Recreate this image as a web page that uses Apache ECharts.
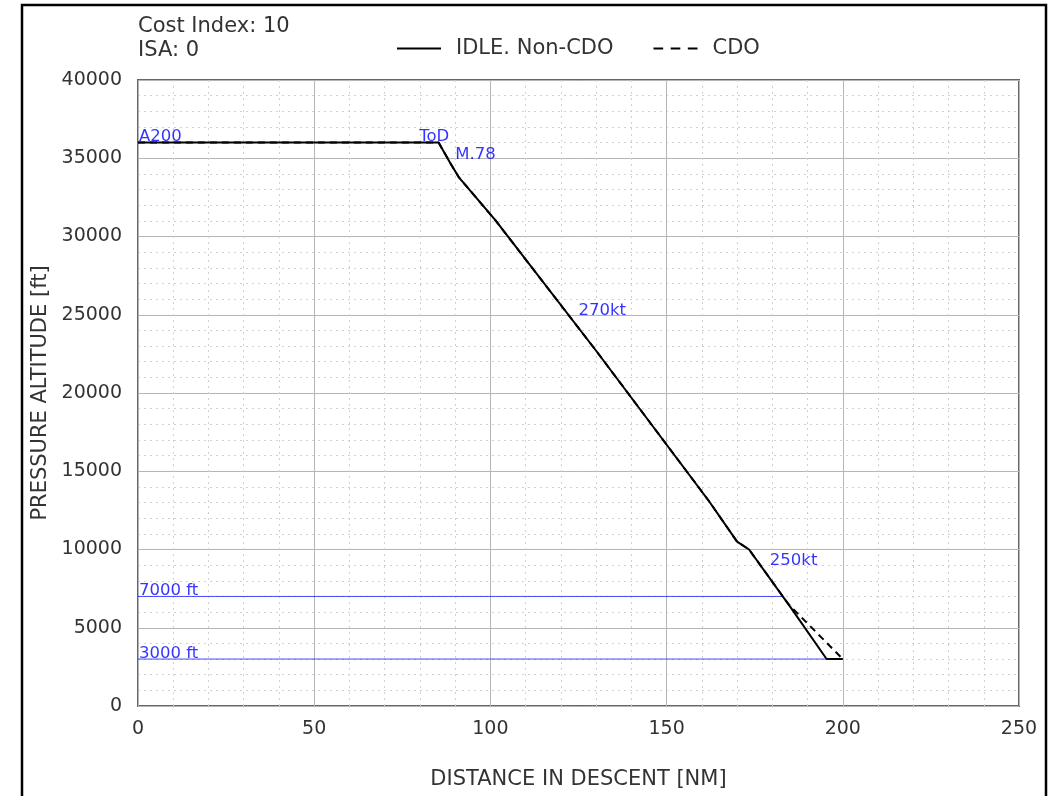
<!DOCTYPE html>
<html>
<head>
<meta charset="utf-8">
<script src="https://cdn.jsdelivr.net/npm/echarts@6/dist/echarts.min.js"></script>
<style>
    html, body { margin: 0; padding: 0; background: #fff; }
    #chart { width: 1050px; height: 796px; }
</style>
</head>
<body>
<div id="chart"></div>
<script>
// descent profiles: [distance NM, altitude ft]
var nonCdoProfile = [
    [0, 36000], [85.3, 36000], [88.6, 34700], [91, 33800], [101.4, 31040],
    [130, 22700], [162, 13100], [170, 10500], [173.4, 10000], [185.2, 6300],
    [195.4, 3000], [200, 3000]
];
var cdoProfile = [
    [0, 36000], [85.3, 36000], [88.6, 34700], [91, 33800], [101.4, 31040],
    [130, 22700], [162, 13100], [170, 10500], [173.4, 10000], [184.6, 6500],
    [200, 3000]
];

// reference altitude lines
var refAlts = [7000, 3000];
var refEnds = [182.8, 200];
var refLabels = ['7000 ft', '3000 ft'];

// point annotations
var noteText = ['A200', 'ToD', 'M.78', '270kt', '250kt'];
var notePos = [[0.3, 36000], [79.8, 36000], [90, 34900], [125, 24900], [179.3, 8900]];

var chart = echarts.init(document.getElementById('chart'));

var font = 'DejaVu Sans';

var series = [
    {
        name: 'IDLE. Non-CDO',
        type: 'line',
        data: nonCdoProfile,
        symbol: 'none',
        lineStyle: { color: '#000', width: 2 },
        itemStyle: { color: '#000' },
        z: 4
    },
    {
        name: 'CDO',
        type: 'line',
        data: cdoProfile,
        symbol: 'none',
        lineStyle: { color: '#000', width: 2, type: [7, 5] },
        itemStyle: { color: '#000' },
        z: 3
    }
];

refAlts.forEach(function (alt, i) {
    series.push({
        type: 'line',
        data: [[0, alt], [refEnds[i], alt]],
        symbol: 'none',
        silent: true,
        lineStyle: { color: 'rgba(30,30,255,0.8)', width: 1 },
        z: 2
    });
});

var labelData = [];
noteText.forEach(function (t, i) {
    labelData.push({ value: notePos[i], name: t });
});
refLabels.forEach(function (t, i) {
    labelData.push({ value: [0.3, refAlts[i]], name: t });
});

series.push({
    type: 'scatter',
    data: labelData,
    symbolSize: 0,
    silent: true,
    label: {
        show: true,
        position: [0, 3],
        align: 'left',
        verticalAlign: 'bottom',
        formatter: '{b}',
        color: '#0000ff',
        fontSize: 16.5,
        fontFamily: font
    },
    z: 5
});

var plain = function (v) { return String(v); };

var option = {
    animation: false,
    backgroundColor: '#fff',
    title: {
        text: 'Cost Index: 10\nISA: 0',
        left: 133,
        top: 10,
        textStyle: { fontSize: 21, fontWeight: 'normal', color: '#333', fontFamily: font, lineHeight: 24 }
    },
    legend: {
        left: 392,
        top: 33,
        itemWidth: 44,
        itemHeight: 14,
        itemGap: 40,
        data: [
            { name: 'IDLE. Non-CDO', icon: 'path://M0,0h44v2h-44z' },
            { name: 'CDO', icon: 'path://M0,0h9v2h-9zM16,0h9v2h-9zM32,0h9v2h-9z' }
        ],
        textStyle: { fontSize: 21, color: '#333', fontFamily: font, padding: [0, 0, 0, 10] }
    },
    grid: {
        left: 138,
        right: 31,
        top: 80,
        bottom: 90,
        outerBoundsMode: 'none',
        containLabel: false,
        show: true,
        borderColor: '#666',
        borderWidth: 2
    },
    xAxis: {
        type: 'value',
        min: 0,
        max: 250,
        interval: 50,
        name: 'DISTANCE IN DESCENT [NM]',
        nameLocation: 'middle',
        nameGap: 63,
        nameTextStyle: { fontSize: 21, color: '#333', fontFamily: font },
        axisLine: { show: false },
        axisTick: { show: false },
        axisLabel: { fontSize: 19, color: '#333', fontFamily: font, margin: 14, formatter: plain },
        splitLine: { show: true, lineStyle: { color: '#b5b5b5', width: 1 } },
        minorTick: { show: false, splitNumber: 5 },
        minorSplitLine: { show: true, lineStyle: { color: '#d0d0d0', width: 1, type: [2, 4] } }
    },
    yAxis: {
        type: 'value',
        min: 0,
        max: 40000,
        interval: 5000,
        name: 'PRESSURE ALTITUDE [ft]',
        nameLocation: 'middle',
        nameGap: 83,
        nameRotate: 90,
        nameTextStyle: { fontSize: 21, color: '#333', fontFamily: font },
        axisLine: { show: false },
        axisTick: { show: false },
        axisLabel: { fontSize: 19, color: '#333', fontFamily: font, margin: 16, formatter: plain },
        splitLine: { show: true, lineStyle: { color: '#b5b5b5', width: 1 } },
        minorTick: { show: false, splitNumber: 5 },
        minorSplitLine: { show: true, lineStyle: { color: '#d0d0d0', width: 1, type: [2, 4] } }
    },
    graphic: [
        {
            type: 'rect',
            silent: true,
            shape: { x: 22, y: 5, width: 1024, height: 800 },
            style: { fill: 'none', stroke: '#000', lineWidth: 2.5 }
        }
    ],
    series: series
};

chart.setOption(option);
</script>
</body>
</html>
